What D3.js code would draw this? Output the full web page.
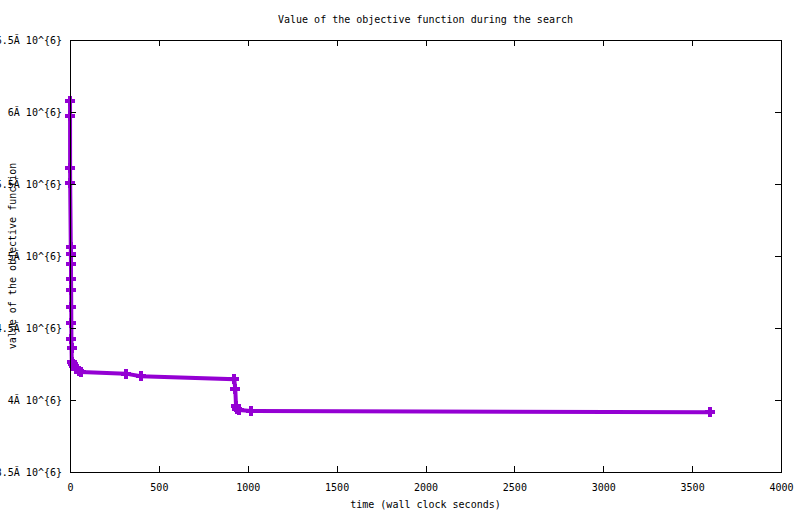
<!DOCTYPE html>
<html>
<head>
<meta charset="utf-8">
<style>
    body { margin: 0; background: #fff; }
    text { font-family: "DejaVu Sans Mono", monospace; font-size: 10px; fill: #000; }
    .axis path, .axis line { stroke: #000; stroke-width: 1px; shape-rendering: crispEdges; }
    .series { fill: none; stroke: #9400d3; stroke-width: 4px; stroke-linejoin: miter; }
    .mark { stroke: #9400d3; stroke-width: 4px; shape-rendering: crispEdges; }
</style>
</head>
<body>
<div id="chart"></div>
<script src="https://cdn.jsdelivr.net/npm/d3@7"></script>
<script>
// data (wall clock seconds, objective value)
var times = [0.1, 0.3, 0.6, 1.0, 4.5, 5, 5.5, 6, 6.5, 7, 7.5, 8, 8.5,
             10, 16, 24, 34, 48, 62, 314, 398, 924, 930, 934, 940, 952, 1018, 3600];
var values = [6.078e6, 5.974e6, 5.613e6, 5.505e6, 5.065e6, 5.014e6, 4.942e6, 4.842e6, 4.764e6,
              4.648e6, 4.537e6, 4.422e6, 4.359e6, 4.266e6, 4.248e6, 4.238e6, 4.215e6, 4.200e6,
              4.195e6, 4.183e6, 4.165e6, 4.144e6, 4.074e6, 3.960e6, 3.9375e6, 3.930e6, 3.924e6, 3.915e6];
var xTicks = [0, 500, 1000, 1500, 2000, 2500, 3000, 3500, 4000];
var yTicks = [3.5e6, 4e6, 4.5e6, 5e6, 5.5e6, 6e6, 6.5e6];

var width = 800, height = 514;
// plot box
var mLeft = 70, mRight = 781, mTop = 40, mBottom = 472;

var svg = d3.select("#chart").append("svg")
    .attr("width", width)
    .attr("height", height);

var x = d3.scaleLinear().domain([0, 4000]).range([mLeft, mRight]);
var y = d3.scaleLinear().domain([3.5e6, 6.5e6]).range([mBottom, mTop]);

function yLabel(d) { return (d / 1e6) + "Ă 10^{6}"; }

// series first, so the border stays visible on top
var pts = times.map(function(t, i) { return [t, values[i]]; });

svg.append("path")
    .attr("class", "series")
    .attr("d", d3.line().x(function(d) { return x(d[0]); }).y(function(d) { return y(d[1]); })(pts));

var mark = svg.selectAll(".pt").data(pts).enter().append("g")
    .attr("transform", function(d) { return "translate(" + x(d[0]) + "," + y(d[1]) + ")"; });
mark.append("line").attr("class", "mark").attr("x1", -5).attr("x2", 5).attr("y1", 0).attr("y2", 0);
mark.append("line").attr("class", "mark").attr("x1", 0).attr("x2", 0).attr("y1", -5).attr("y2", 5);

// axes, ticks pointing inward
svg.append("g").attr("class", "axis")
    .attr("transform", "translate(0," + mBottom + ")")
    .call(d3.axisBottom(x).tickValues(xTicks).tickFormat(d3.format("d"))
        .tickSizeInner(-6).tickSizeOuter(0).tickPadding(12));
svg.append("g").attr("class", "axis")
    .attr("transform", "translate(" + mLeft + ",0)")
    .call(d3.axisLeft(y).tickValues(yTicks).tickFormat(yLabel)
        .tickSizeInner(-6).tickSizeOuter(0).tickPadding(8));
svg.append("g").attr("class", "axis")
    .attr("transform", "translate(0," + mTop + ")")
    .call(d3.axisTop(x).tickValues(xTicks).tickFormat("").tickSizeInner(-6).tickSizeOuter(0));
svg.append("g").attr("class", "axis")
    .attr("transform", "translate(" + mRight + ",0)")
    .call(d3.axisRight(y).tickValues(yTicks).tickFormat("").tickSizeInner(-6).tickSizeOuter(0));

svg.selectAll(".axis").attr("font-family", null).attr("font-size", null);

// texts
svg.append("text")
    .attr("x", (mLeft + mRight) / 2)
    .attr("y", 23)
    .attr("text-anchor", "middle")
    .text("Value of the objective function during the search");

svg.append("text")
    .attr("x", (mLeft + mRight) / 2)
    .attr("y", 508)
    .attr("text-anchor", "middle")
    .text("time (wall clock seconds)");

svg.append("text")
    .attr("transform", "translate(12," + (mTop + mBottom) / 2 + ") rotate(-90)")
    .attr("dy", "0.35em")
    .attr("text-anchor", "middle")
    .text("value of the objective function");
</script>
</body>
</html>
